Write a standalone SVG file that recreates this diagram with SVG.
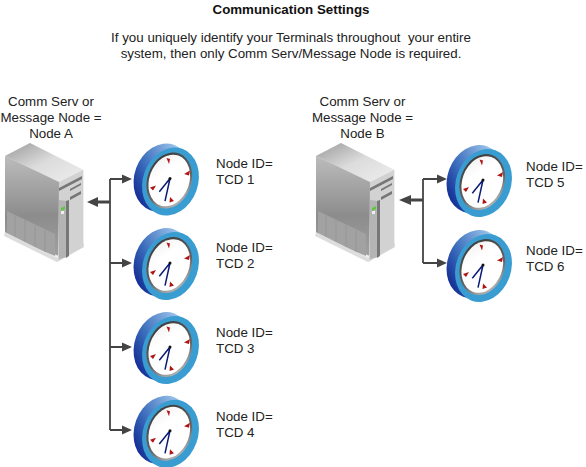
<svg xmlns="http://www.w3.org/2000/svg" width="586" height="467" viewBox="0 0 586 467">
<style>
text{font-family:"Liberation Sans",Arial,sans-serif;font-size:13.33px;fill:#222}
.c{text-anchor:middle}
.title{font-weight:bold;fill:#111}
.w{fill:none;stroke:#444;stroke-width:1.800}
.t{fill:none;stroke:#444;stroke-width:3}
.h{fill:#444}
</style>
<defs>
<linearGradient id="ring" x1="0" y1="1" x2=".7" y2="0"><stop offset="0" stop-color="#000d80"/><stop offset=".45" stop-color="#3a6cbc"/><stop offset="1" stop-color="#a8cff0"/></linearGradient>
<linearGradient id="bez" x1="0" y1="0" x2="1" y2="1"><stop offset="0" stop-color="#333"/><stop offset=".6" stop-color="#666"/><stop offset="1" stop-color="#ddd"/></linearGradient>
<linearGradient id="face" x1="0" y1="0" x2="1" y2="1"><stop offset="0" stop-color="#eee"/><stop offset=".35" stop-color="#fff"/></linearGradient>
<linearGradient id="top" x1="0" y1="0" x2="1" y2="1"><stop offset="0" stop-color="#999"/><stop offset=".5" stop-color="#dcdcdc"/><stop offset="1" stop-color="#eee"/></linearGradient>
<linearGradient id="side" x1="0" y1="0" x2="0" y2="1"><stop offset="0" stop-color="#bcbcbc"/><stop offset=".6" stop-color="#8c8c8c"/><stop offset="1" stop-color="#a0a0a0"/></linearGradient>
<g id="clock">
<ellipse cx="-8" cy="-1" rx="27.500" ry="34.800" transform="rotate(20 -8 -1)" fill="url(#ring)"/>
<ellipse cx=".5" cy="3" rx="27.500" ry="34.800" transform="rotate(20 .5 3)" fill="#3a9dd2"/>
<ellipse cx="-.7" cy="2" rx="22" ry="28.700" transform="rotate(20 -.7 2)" fill="url(#bez)"/>
<ellipse cx="-.7" cy="2" rx="20" ry="26.500" transform="rotate(20 -.7 2)" fill="url(#face)"/>
<path d="M-3.500-20.500l3.500 1-1 5zM20-8l-1 5-5-1.500zM-20 9l6-2-3 5zM0 18.500l4 4-4.500 1.500z" fill="#b01515"/>
<path d="M-10.700 13.300L0 0-5 22.700" fill="none" stroke="#0d1a78" stroke-width="1.500"/>
<circle cx="0" cy="0" r="1.500" fill="#111"/>
</g>
<g id="server">
<path d="M5 156V236L57 262 84 247V170L30 143Z" fill="#eee"/>
<path d="M5 156L30 143 83 170 59 182Z" fill="url(#top)"/>
<path d="M5 156L59 182V256L5 235Z" fill="url(#side)"/>
<path d="M7 211L55 234V256L7 236Z" fill="#a2a2a2"/>
<path d="M15 215V238M25 220V243M35 225V248M45 230V252" stroke="#969696" fill="none"/>
<path d="M4 236L57 262 84 247V243L57 258 5 232Z" fill="#ddd"/>
<path d="M59 182L83 170V247L58 261Z" fill="#d2d2d2"/>
<path d="M59 188L82 176V179L59 191ZM70 189L81 183V185L70 191ZM70 197L81 191V194L70 200Z" fill="#777"/>
<path d="M59 200L67 201V257L59 259Z" fill="#b4b4b4"/>
<path d="M66 201L69 200V256L66 258Z" fill="#777"/>
<path d="M61 208L65 206V209L61 211Z" fill="#5cc83c"/>
<rect x="61" y="211" width="3" height="3" fill="#eee"/>
</g>
</defs>
<g id="title"><text class="c title" x="291" y="14">Communication Settings</text></g>
<g id="note"><text class="c" x="291" y="42" xml:space="preserve">If you uniquely identify your Terminals throughout  your entire</text><text class="c" x="291" y="58">system, then only Comm Serv/Message Node is required.</text></g>
<g id="connectors">
<path class="w" d="M110 179V430M110 179H123M110 263H123M110 347H123M110 430H123"/>
<path class="t" d="M110 202H95"/>
<path class="h" d="M132 179L122 174.500V183.500ZM132 263L122 258.500V267.500ZM132 347L122 342.500V351.500ZM132 430L122 425.500V434.500ZM87 202L98 197V207Z"/>
<path class="w" d="M423 179V263M423 179H438M423 263H438"/>
<path class="t" d="M423 200H408"/>
<path class="h" d="M447 179L437 174.500V183.500ZM447 263L437 258.500V267.500ZM399 200L411 195V205Z"/>
</g>
<g id="node-a"><use href="#server"/><text class="c" x="51" y="106">Comm Serv or</text><text class="c" x="51" y="122">Message Node =</text><text class="c" x="51" y="138">Node A</text></g>
<g id="node-b"><use href="#server" x="311"/><text class="c" x="362.500" y="106">Comm Serv or</text><text class="c" x="362.500" y="122">Message Node =</text><text class="c" x="362.500" y="138">Node B</text></g>
<g id="tcd1"><use href="#clock" x="170" y="178.500"/><text x="216" y="168">Node ID=</text><text x="216" y="184">TCD 1</text></g>
<g id="tcd2"><use href="#clock" x="170" y="263"/><text x="216" y="252">Node ID=</text><text x="216" y="268">TCD 2</text></g>
<g id="tcd3"><use href="#clock" x="170" y="347"/><text x="216" y="337">Node ID=</text><text x="216" y="353">TCD 3</text></g>
<g id="tcd4"><use href="#clock" x="170" y="430.700"/><text x="216" y="421">Node ID=</text><text x="216" y="437">TCD 4</text></g>
<g id="tcd5"><use href="#clock" x="483" y="180"/><text x="526" y="171">Node ID=</text><text x="526" y="187">TCD 5</text></g>
<g id="tcd6"><use href="#clock" x="483" y="265"/><text x="526" y="255">Node ID=</text><text x="526" y="271">TCD 6</text></g>
</svg>
